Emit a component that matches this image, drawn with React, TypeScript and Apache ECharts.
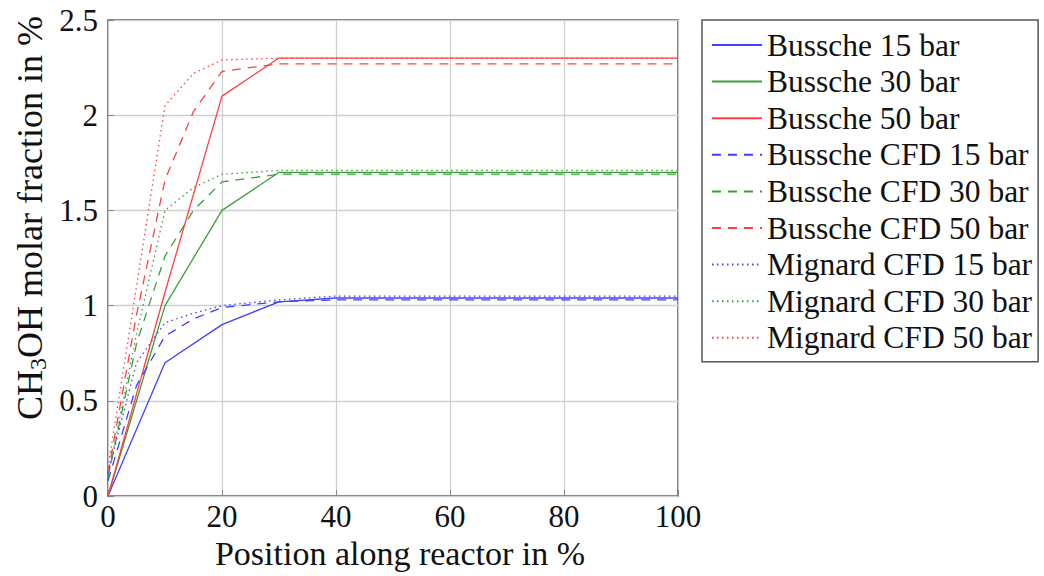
import React, { useEffect, useRef } from "react";
import * as echarts from "echarts";

const xSolid = [0, 10, 20, 30, 40, 100];
const busscheExp15 = [0, 0.7, 0.9, 1.02, 1.04, 1.04];
const busscheExp30 = [0, 1.0, 1.5, 1.7, 1.7, 1.7];
const busscheExp50 = [0, 1.07, 2.1, 2.3, 2.3, 2.3];

const xCfd = [0, 5, 10, 15, 20, 30, 40, 100];
const busscheCfd15 = [0.08, 0.58, 0.84, 0.93, 0.99, 1.02, 1.03, 1.03];
const busscheCfd30 = [0.1, 0.8, 1.26, 1.5, 1.65, 1.69, 1.69, 1.69];
const busscheCfd50 = [0.12, 0.95, 1.66, 2.02, 2.23, 2.27, 2.27, 2.27];
const mignardCfd15 = [0.12, 0.7, 0.91, 0.96, 1.0, 1.03, 1.05, 1.05];
const mignardCfd30 = [0.1, 0.85, 1.5, 1.62, 1.69, 1.71, 1.71, 1.71];
const mignardCfd50 = [0.15, 1.1, 2.05, 2.22, 2.29, 2.3, 2.3, 2.3];

const xTicks = [0, 20, 40, 60, 80, 100];
const yTicks = [0, 0.5, 1, 1.5, 2, 2.5];

const BLUE = "#4040ff";
const GREEN = "#38a038";
const RED = "#ff4040";
const FONT = "Liberation Serif";

const zip = (xs: number[], ys: number[]) => xs.map((x, i) => [x, ys[i]]);

export default function App() {
  const ref = useRef<HTMLDivElement>(null);
  useEffect(() => {
    if (!ref.current) return;
    const chart = echarts.init(ref.current, undefined, { renderer: "svg" });
    const mk = (name: string, xs: number[], ys: number[], color: string, type: any) => ({
      name,
      type: "line",
      data: zip(xs, ys),
      symbol: "none",
      showSymbol: false,
      lineStyle: { color, width: 1.3, type },
      itemStyle: { color },
      z: 3,
    });
    const DASH = [9, 7];
    const DOT = [1.5, 3.5];
    chart.setOption({
      animation: false,
      backgroundColor: "#fff",
      grid: {
        left: 108,
        right: 366,
        top: 20,
        bottom: 80,
        show: true,
        borderColor: "#444",
        borderWidth: 1.5,
      },
      xAxis: {
        type: "value",
        min: 0,
        max: 100,
        interval: 20,
        name: "Position along reactor in %",
        nameLocation: "middle",
        nameGap: 38,
        nameTextStyle: { fontFamily: FONT, fontSize: 34, color: "#111", padding: [0, 0, 0, 14] },
        axisLine: { show: false },
        axisTick: { show: true, inside: true, length: 6, lineStyle: { color: "#888" } },
        axisLabel: {
          fontFamily: FONT,
          fontSize: 31,
          color: "#111",
          margin: 5,
          formatter: (v: number) => (xTicks.includes(v) ? String(v) : ""),
        },
        splitLine: { show: true, lineStyle: { color: "#cfcfcf", width: 1.3 } },
      },
      yAxis: {
        type: "value",
        min: 0,
        max: 2.5,
        interval: 0.5,
        axisLine: { show: false },
        axisTick: { show: true, inside: true, length: 6, lineStyle: { color: "#888" } },
        axisLabel: {
          fontFamily: FONT,
          fontSize: 31,
          color: "#111",
          margin: 10,
          formatter: (v: number) => (yTicks.includes(v) ? String(v) : ""),
        },
        splitLine: { show: true, lineStyle: { color: "#cfcfcf", width: 1.3 } },
      },
      legend: {
        orient: "vertical",
        left: 702,
        top: 20,
        padding: [9, 6, 8, 9],
        itemWidth: 50,
        itemHeight: 14,
        itemGap: 4.6,
        borderColor: "#555",
        borderWidth: 1.5,
        backgroundColor: "#fff",
        itemStyle: { opacity: 0 },
        textStyle: { fontFamily: FONT, fontSize: 31.5, color: "#111" },
      },
      graphic: [
        {
          type: "text",
          x: 30,
          y: 218,
          rotation: Math.PI / 2,
          style: {
            text: "{a|CH}{s|3}{a|OH molar fraction in %}",
            align: "center",
            verticalAlign: "middle",
            rich: {
              a: { fontFamily: FONT, fontSize: 36, fill: "#111" },
              s: { fontFamily: FONT, fontSize: 24, fill: "#111", padding: [15, 0, 0, 0] },
            },
          },
        },
      ],
      series: [
        mk("Bussche 15 bar", xSolid, busscheExp15, BLUE, "solid"),
        mk("Bussche 30 bar", xSolid, busscheExp30, GREEN, "solid"),
        mk("Bussche 50 bar", xSolid, busscheExp50, RED, "solid"),
        mk("Bussche CFD 15 bar", xCfd, busscheCfd15, BLUE, DASH),
        mk("Bussche CFD 30 bar", xCfd, busscheCfd30, GREEN, DASH),
        mk("Bussche CFD 50 bar", xCfd, busscheCfd50, RED, DASH),
        mk("Mignard CFD 15 bar", xCfd, mignardCfd15, BLUE, DOT),
        mk("Mignard CFD 30 bar", xCfd, mignardCfd30, GREEN, DOT),
        mk("Mignard CFD 50 bar", xCfd, mignardCfd50, RED, DOT),
      ],
    });
    return () => chart.dispose();
  }, []);
  return <div ref={ref} style={{ width: 1044, height: 576, position: "absolute", left: 0, top: 0 }} />;
}
